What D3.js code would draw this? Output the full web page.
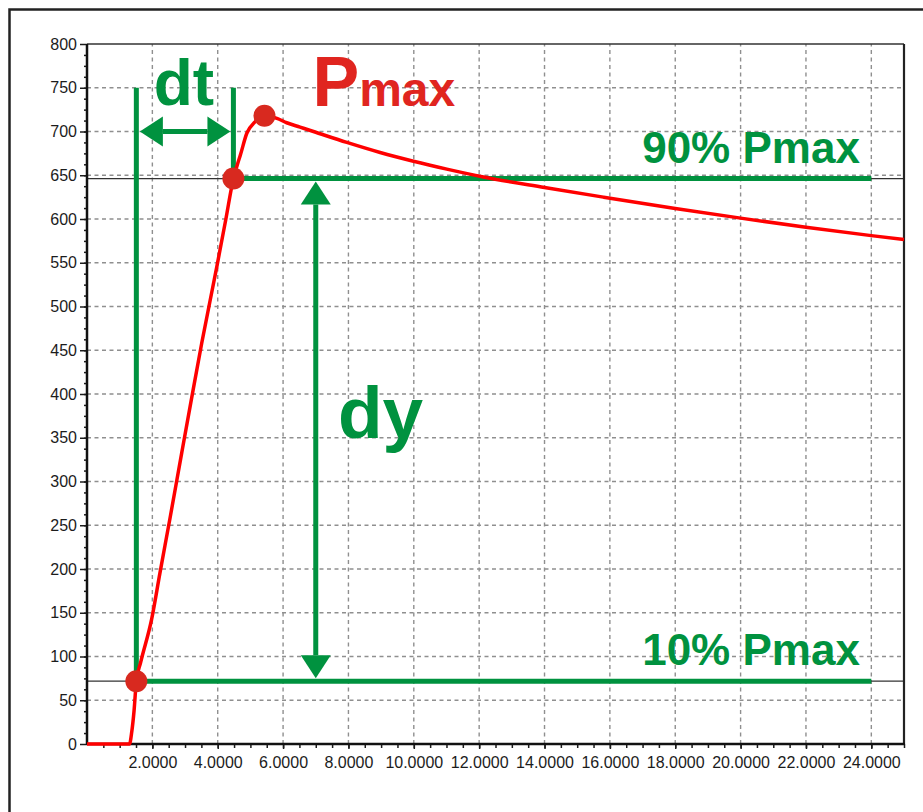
<!DOCTYPE html>
<html>
<head>
<meta charset="utf-8">
<script src="https://cdn.jsdelivr.net/npm/d3@7"></script>
<style>
  body { margin: 0; background: #fff; }
  svg { display: block; font-family: "Liberation Sans", Arial, sans-serif; }
  .axis text { font-family: "Liberation Sans", Arial, sans-serif; font-size: 16px; fill: #1c1c1c; }
  .axis .domain { display: none; }
  .axis line { stroke: #1c1c1c; stroke-width: 1.5; }
  .grid line { stroke: #8f8f8f; stroke-width: 1.4; stroke-dasharray: 4,3.5; }
</style>
</head>
<body>
<div id="chart"></div>
<script>
// Measured pressure curve (time, pressure)
const timeValues = [0, 1.30, 1.37, 1.44, 1.51, 1.64, 1.98, 2.23, 2.54, 2.90, 3.20, 3.51, 3.97, 4.25, 4.48,
  4.60, 4.70, 4.89, 5.14, 5.43, 5.81, 6.11, 6.52, 6.93, 7.95, 8.97, 9.99, 11.01, 12.13, 14.0, 15.8, 18.0,
  20.0, 22.0, 24.0, 25.0];
const pressureValues = [0, 0, 14, 38, 71.8, 93, 143, 195, 258, 333, 395, 458, 545, 600, 646.2,
  662, 674, 698, 711, 718, 715, 710, 705, 700, 687.5, 676, 666, 657, 648, 636, 625, 612,
  601, 590.5, 581, 576.5];

// Axis ticks
const xMajorTicks = [2, 4, 6, 8, 10, 12, 14, 16, 18, 20, 22, 24];
const xMinorTicks = d3.range(0.5, 25.01, 0.5);
const yMajorTicks = [0, 50, 100, 150, 200, 250, 300, 350, 400, 450, 500, 550, 600, 650, 700, 750, 800];
const yMinorTicks = d3.range(12.5, 800, 12.5);

// Key values
const pMax = 718;
const pMaxTime = 5.43;
const t10 = 1.51;   // time at 10% Pmax
const t90 = 4.48;   // time at 90% Pmax
const p10 = 0.1 * pMax;
const p90 = 0.9 * pMax;
const dyTime = 7.0;

const curve = timeValues.map((t, i) => ({ t: t, p: pressureValues[i] }));

const totalWidth = 923, totalHeight = 812;
const margin = { top: 44, right: 19, bottom: 68, left: 87 };

const svg = d3.select("#chart")
  .append("svg")
  .attr("width", totalWidth)
  .attr("height", totalHeight);

// Outer frame
svg.append("rect")
  .attr("x", 9.5).attr("y", 9.5)
  .attr("width", 940).attr("height", 830)
  .attr("fill", "none")
  .attr("stroke", "#222")
  .attr("stroke-width", 2.5);

const xScale = d3.scaleLinear()
  .domain([0, 25])
  .range([margin.left, totalWidth - margin.right]);

const yScale = d3.scaleLinear()
  .domain([0, 800])
  .range([totalHeight - margin.bottom, margin.top]);

const x0 = xScale(0), x1 = xScale(25), y0 = yScale(0), y1 = yScale(800);

// Grid lines
const grid = svg.append("g").attr("class", "grid");
grid.selectAll(".vgrid")
  .data(xMajorTicks)
  .enter().append("line")
  .attr("x1", d => xScale(d)).attr("x2", d => xScale(d))
  .attr("y1", y0).attr("y2", y1);
grid.selectAll(".hgrid")
  .data(yMajorTicks.filter(d => d > 0 && d < 800))
  .enter().append("line")
  .attr("x1", x0).attr("x2", x1)
  .attr("y1", d => yScale(d)).attr("y2", d => yScale(d));

// Thin reference lines at 10% and 90%
svg.selectAll(".refline")
  .data([p90, p10])
  .enter().append("line")
  .attr("x1", x0).attr("x2", x1)
  .attr("y1", d => yScale(d)).attr("y2", d => yScale(d))
  .attr("stroke", "#333")
  .attr("stroke-width", 1.3);

// Minor ticks
svg.append("g")
  .attr("class", "axis")
  .attr("transform", `translate(0, ${y0})`)
  .call(d3.axisBottom(xScale).tickValues(xMinorTicks).tickSize(4).tickFormat(""));
svg.append("g")
  .attr("class", "axis")
  .attr("transform", `translate(${x0}, 0)`)
  .call(d3.axisLeft(yScale).tickValues(yMinorTicks).tickSize(3).tickFormat(""));

// Major ticks with labels
svg.append("g")
  .attr("class", "axis x-axis")
  .attr("transform", `translate(0, ${y0})`)
  .call(d3.axisBottom(xScale).tickValues(xMajorTicks).tickSize(5).tickPadding(8).tickFormat(d3.format(".4f")));
svg.append("g")
  .attr("class", "axis y-axis")
  .attr("transform", `translate(${x0}, 0)`)
  .call(d3.axisLeft(yScale).tickValues(yMajorTicks).tickSize(7).tickPadding(3));

// Plot border
svg.append("line").attr("x1", x0).attr("x2", x1).attr("y1", y1).attr("y2", y1)
  .attr("stroke", "#333").attr("stroke-width", 1.5);
svg.append("line").attr("x1", x1).attr("x2", x1).attr("y1", y1).attr("y2", y0)
  .attr("stroke", "#222").attr("stroke-width", 2.2);
svg.append("line").attr("x1", x0).attr("x2", x0).attr("y1", y1).attr("y2", y0 + 1)
  .attr("stroke", "#111").attr("stroke-width", 2.5);
svg.append("line").attr("x1", x0).attr("x2", x1 + 1).attr("y1", y0).attr("y2", y0)
  .attr("stroke", "#111").attr("stroke-width", 2.5);

const green = "#00923f";
const red = "#d8291f";

// Green guide lines
svg.append("line")
  .attr("x1", xScale(t10)).attr("x2", xScale(t10))
  .attr("y1", yScale(750)).attr("y2", yScale(p10))
  .attr("stroke", green).attr("stroke-width", 5);
svg.append("line")
  .attr("x1", xScale(t90)).attr("x2", xScale(t90))
  .attr("y1", yScale(750)).attr("y2", yScale(p90))
  .attr("stroke", green).attr("stroke-width", 5);
svg.append("line")
  .attr("x1", xScale(t90)).attr("x2", xScale(24))
  .attr("y1", yScale(p90)).attr("y2", yScale(p90))
  .attr("stroke", green).attr("stroke-width", 5);
svg.append("line")
  .attr("x1", xScale(t10)).attr("x2", xScale(24))
  .attr("y1", yScale(p10)).attr("y2", yScale(p10))
  .attr("stroke", green).attr("stroke-width", 5);

// Double arrows
function doubleArrow(ax, ay, bx, by) {
  const len = Math.hypot(bx - ax, by - ay);
  const ux = (bx - ax) / len, uy = (by - ay) / len;
  const nx = -uy, ny = ux;
  const headL = 23, headW = 15;
  const g = svg.append("g");
  g.append("line")
    .attr("x1", ax + ux * headL).attr("y1", ay + uy * headL)
    .attr("x2", bx - ux * headL).attr("y2", by - uy * headL)
    .attr("stroke", green).attr("stroke-width", 5);
  [[ax, ay, 1], [bx, by, -1]].forEach(([px, py, s]) => {
    const bxp = px + s * ux * headL, byp = py + s * uy * headL;
    g.append("path")
      .attr("d", `M${px},${py}L${bxp + nx * headW},${byp + ny * headW}L${bxp - nx * headW},${byp - ny * headW}Z`)
      .attr("fill", green);
  });
}
doubleArrow(xScale(t10) + 3.5, yScale(700), xScale(t90) - 3, yScale(700));
doubleArrow(xScale(dyTime), yScale(p90) + 3, xScale(dyTime), yScale(p10) - 3);

// The pressure curve
const line = d3.line()
  .x(d => xScale(d.t))
  .y(d => yScale(d.p))
  .curve(d3.curveMonotoneX);

svg.append("path")
  .datum(curve)
  .attr("fill", "none")
  .attr("stroke", "#ff0000")
  .attr("stroke-width", 3.5)
  .attr("stroke-linejoin", "round")
  .attr("d", line);

// Key points
svg.selectAll(".dot")
  .data([{ t: t10, p: p10 }, { t: t90, p: p90 }, { t: pMaxTime, p: pMax }])
  .enter().append("circle")
  .attr("cx", d => xScale(d.t))
  .attr("cy", d => yScale(d.p))
  .attr("r", 11)
  .attr("fill", red);

// Labels
svg.append("text")
  .attr("x", xScale((t10 + t90) / 2) - 1)
  .attr("y", yScale(730))
  .attr("text-anchor", "middle")
  .attr("fill", green)
  .style("font-size", "64px")
  .style("font-weight", "bold")
  .text("dt");

svg.append("text")
  .attr("x", xScale(7.68))
  .attr("y", yScale(350))
  .attr("fill", green)
  .style("font-size", "73px")
  .style("font-weight", "bold")
  .text("dy");

const pLabel = svg.append("text")
  .attr("x", xScale(6.9))
  .attr("y", yScale(729))
  .attr("fill", "#e0251f")
  .style("font-weight", "bold");
pLabel.append("tspan").style("font-size", "70px").text("P");
pLabel.append("tspan").style("font-size", "48px").text("max");

[[p90, "90% ", 664], [p10, "10% ", 90.5]].forEach(([lvl, pct, yy]) => {
  const t = svg.append("text")
    .attr("x", xScale(23.65))
    .attr("y", yScale(yy))
    .attr("text-anchor", "end")
    .attr("fill", green)
    .style("font-weight", "bold")
    .style("font-size", "44px");
  t.append("tspan").text(pct + "P");
  t.append("tspan").text("max");
});
</script>
</body>
</html>
